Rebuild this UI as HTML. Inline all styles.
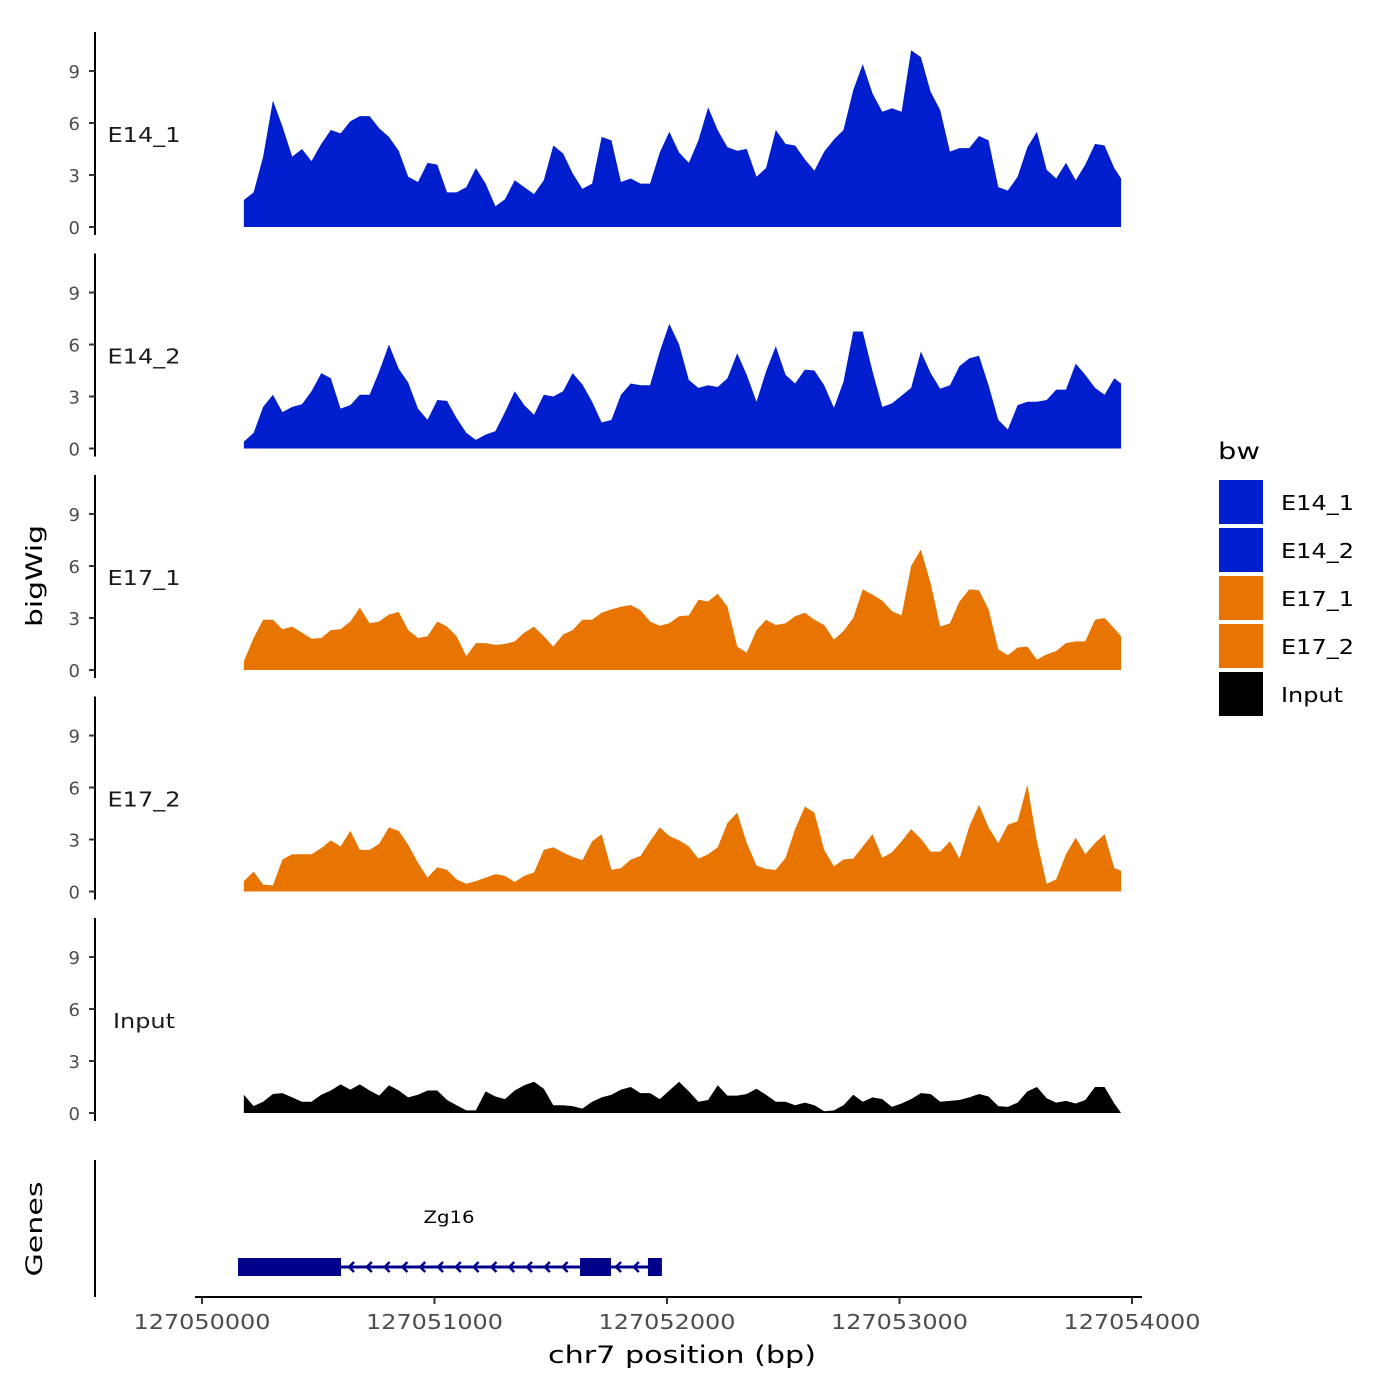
<!DOCTYPE html>
<html>
<head>
<meta charset="utf-8">
<style>
  html,body{margin:0;padding:0;background:#fff;}
  svg{display:block;font-family:"DejaVu Sans","Liberation Sans",sans-serif;}
</style>
</head>
<body>
<svg id="chart" width="1400" height="1400" viewBox="0 0 1400 1400" xmlns="http://www.w3.org/2000/svg">
  <rect x="0" y="0" width="1400" height="1400" fill="#fff"/>
  <g id="panels"></g>
  <g id="genes"></g>
  <g id="xaxis"></g>
  <text x="42" y="576" font-size="22" fill="#000" text-anchor="middle" textLength="102" lengthAdjust="spacingAndGlyphs" transform="rotate(-90 42 576)">bigWig</text>
  <text x="42" y="1229" font-size="22" fill="#000" text-anchor="middle" textLength="95" lengthAdjust="spacingAndGlyphs" transform="rotate(-90 42 1229)">Genes</text>
  <text x="682" y="1363" font-size="24" fill="#000" text-anchor="middle" textLength="268" lengthAdjust="spacingAndGlyphs">chr7 position (bp)</text>
  <g id="legend">
    <text x="1218" y="459" font-size="23" fill="#000" textLength="42" lengthAdjust="spacingAndGlyphs">bw</text>
  </g>
</svg>
<script>
const regionStart = 127050000;
const positionsOffsetBp = [180,222,263,305,346,388,430,471,513,554,596,638,679,721,762,804,846,887,929,970,1012,1054,1095,1137,1178,1220,1262,1303,1345,1386,1428,1470,1511,1553,1594,1636,1678,1719,1761,1802,1844,1886,1927,1969,2010,2052,2094,2135,2177,2218,2260,2302,2343,2385,2426,2468,2510,2551,2593,2634,2676,2718,2759,2801,2842,2884,2926,2967,3009,3050,3092,3134,3175,3217,3258,3300,3342,3383,3425,3466,3508,3550,3591,3633,3674,3716,3758,3799,3841,3882,3924,3953];
const trackNames = ["E14_1","E14_2","E17_1","E17_2","Input"];
const valuesE14_1 = [1.56,2.0,4.06,7.3,5.8,4.06,4.5,3.8,4.8,5.6,5.4,6.1,6.4,6.4,5.7,5.2,4.4,2.9,2.6,3.7,3.6,2.0,2.0,2.3,3.4,2.5,1.2,1.6,2.7,2.3,1.9,2.7,4.7,4.25,3.1,2.2,2.5,5.2,5.0,2.6,2.8,2.5,2.5,4.3,5.5,4.3,3.7,5.0,6.9,5.6,4.6,4.4,4.5,2.9,3.4,5.6,4.8,4.7,3.9,3.25,4.35,5.05,5.6,7.9,9.4,7.7,6.65,6.85,6.65,10.2,9.8,7.8,6.75,4.35,4.55,4.55,5.25,5.0,2.3,2.1,2.9,4.6,5.5,3.3,2.8,3.7,2.7,3.6,4.8,4.7,3.4,2.8];
const valuesE14_2 = [0.4,0.9,2.4,3.1,2.1,2.4,2.55,3.3,4.35,4.05,2.3,2.5,3.1,3.1,4.45,6.0,4.6,3.8,2.3,1.65,2.8,2.75,1.75,0.9,0.5,0.8,1.0,2.1,3.3,2.5,1.95,3.1,3.0,3.3,4.35,3.7,2.7,1.5,1.65,3.1,3.75,3.65,3.65,5.6,7.2,6.0,3.95,3.5,3.65,3.55,4.05,5.5,4.25,2.7,4.45,5.9,4.25,3.75,4.55,4.5,3.65,2.35,3.85,6.75,6.75,4.45,2.4,2.6,3.05,3.5,5.6,4.35,3.45,3.65,4.75,5.2,5.35,3.65,1.65,1.1,2.5,2.7,2.7,2.8,3.4,3.4,4.9,4.25,3.5,3.1,4.05,3.75];
const valuesE17_1 = [0.5,1.85,2.9,2.9,2.35,2.5,2.15,1.8,1.85,2.3,2.35,2.8,3.6,2.7,2.8,3.2,3.35,2.3,1.85,1.95,2.8,2.5,1.95,0.8,1.55,1.55,1.45,1.5,1.65,2.15,2.5,1.95,1.35,2.05,2.3,2.9,2.9,3.3,3.5,3.65,3.75,3.45,2.8,2.55,2.7,3.1,3.15,4.05,3.95,4.4,3.65,1.35,1.0,2.3,2.9,2.6,2.7,3.1,3.3,2.9,2.6,1.75,2.25,3.0,4.65,4.35,4.0,3.4,3.15,6.0,6.95,5.0,2.5,2.7,3.95,4.65,4.6,3.5,1.2,0.85,1.3,1.35,0.6,0.9,1.1,1.55,1.65,1.65,2.9,3.0,2.4,1.95];
const valuesE17_2 = [0.6,1.15,0.4,0.35,1.85,2.15,2.15,2.15,2.5,2.95,2.6,3.5,2.4,2.4,2.75,3.7,3.5,2.7,1.65,0.8,1.4,1.25,0.7,0.45,0.6,0.8,1.0,0.9,0.55,0.9,1.1,2.4,2.55,2.25,2.0,1.8,2.9,3.3,1.25,1.35,1.85,2.05,2.9,3.7,3.2,2.95,2.6,1.9,2.15,2.55,3.95,4.55,2.8,1.5,1.3,1.25,1.95,3.6,4.9,4.55,2.4,1.45,1.85,1.9,2.6,3.3,1.95,2.25,2.9,3.6,3.05,2.3,2.3,2.9,1.9,3.75,5.0,3.7,2.8,3.85,4.05,6.15,2.9,0.45,0.7,2.15,3.1,2.15,2.8,3.3,1.35,1.2];
const valuesInput = [1.05,0.4,0.65,1.1,1.15,0.9,0.65,0.65,1.05,1.3,1.65,1.35,1.65,1.3,1.0,1.6,1.3,0.9,1.05,1.3,1.3,0.75,0.45,0.15,0.15,1.25,0.95,0.8,1.3,1.6,1.8,1.4,0.45,0.45,0.4,0.25,0.65,0.9,1.05,1.35,1.5,1.15,1.15,0.8,1.3,1.8,1.25,0.65,0.75,1.6,1.0,1.0,1.1,1.4,1.05,0.65,0.65,0.45,0.6,0.45,0.1,0.15,0.45,1.05,0.65,0.9,0.8,0.35,0.55,0.8,1.15,1.1,0.65,0.7,0.75,0.9,1.1,0.95,0.4,0.35,0.6,1.25,1.5,0.85,0.6,0.7,0.55,0.75,1.5,1.5,0.55,0.0];
const yTicks = [0,3,6,9];
const yTickLabels = ["0","3","6","9"];
const xTicksBp = [127050000,127051000,127052000,127053000,127054000];
const xTickLabels = ["127050000","127051000","127052000","127053000","127054000"];
const geneName = "Zg16";
const geneStartBp = 127050155;
const geneEndBp = 127051978;
const exonStartsBp = [127050155,127051626,127051918];
const exonEndsBp = [127050598,127051759,127051978];
const legendLabels = ["E14_1","E14_2","E17_1","E17_2","Input"];

const NS = "http://www.w3.org/2000/svg";
const BLUE = "#001ECD", ORANGE = "#E87502", BLACK = "#000000";
const trackColors = [BLUE, BLUE, ORANGE, ORANGE, BLACK];
const seriesList = [valuesE14_1, valuesE14_2, valuesE17_1, valuesE17_2, valuesInput];

function xScale(bp){ return 202 + (bp - regionStart) * 0.2325; }
function panelBase(p){ return 227 + 221.5 * p; }
function yScale(p, v){ return panelBase(p) - v * 17.33; }
function mk(tag, attrs, parent){
  const el = document.createElementNS(NS, tag);
  for (const k in attrs) el.setAttribute(k, attrs[k]);
  parent.appendChild(el);
  return el;
}

const panels = document.getElementById('panels');
for (let p = 0; p < seriesList.length; p++) {
  const g = mk('g', {}, panels);
  
  
  const base = panelBase(p);
  const vals = seriesList[p];
  let d = 'M' + xScale(regionStart + positionsOffsetBp[0]).toFixed(2) + ',' + base;
  for (let i = 0; i < vals.length; i++) {
    d += ' L' + xScale(regionStart + positionsOffsetBp[i]).toFixed(2) + ',' + yScale(p, vals[i]).toFixed(2);
  }
  d += ' L' + xScale(regionStart + positionsOffsetBp[vals.length - 1]).toFixed(2) + ',' + base + ' Z';
  const area = mk('path', {d: d, fill: trackColors[p], 'stroke-linejoin': 'round'}, g);
  
  
  const ax = mk('line', {x1: 95, x2: 95, y1: base - 195, y2: base + 8, stroke: '#000', 'stroke-width': 2}, g);
  
  
  for (let t = 0; t < yTicks.length; t++) {
    const y = yScale(p, yTicks[t]);
    const tk = mk('line', {x1: 89, x2: 95, y1: y, y2: y, stroke: '#333', 'stroke-width': 2}, g);
    
    
    const tl = mk('text', {x: 80, y: y + 7, 'font-size': 18, fill: '#4d4d4d', 'text-anchor': 'end'}, g);
    tl.textContent = yTickLabels[t];
    
    
  }
  const lbl = mk('text', {x: 144, y: base - 85, 'font-size': 20, fill: '#1a1a1a', 'text-anchor': 'middle', textLength: (trackNames[p] === 'Input' ? 62 : 73), lengthAdjust: 'spacingAndGlyphs'}, g);
  lbl.textContent = trackNames[p];
  
  
}

// Gene track
const genes = document.getElementById('genes');
const gax = mk('line', {x1: 95, x2: 95, y1: 1160, y2: 1297, stroke: '#000', 'stroke-width': 2}, genes);


const gy = 1267;
const gl = mk('line', {x1: xScale(geneStartBp), x2: xScale(geneEndBp), y1: gy, y2: gy, stroke: '#00008B', 'stroke-width': 3}, genes);


for (let ax2 = xScale(exonEndsBp[0]) + 8; ax2 < xScale(geneEndBp) - 6; ax2 += 17.8) {
  let inExon = false;
  for (let e = 0; e < exonStartsBp.length; e++) {
    if (ax2 > xScale(exonStartsBp[e]) - 4 && ax2 < xScale(exonEndsBp[e]) + 4) inExon = true;
  }
  if (inExon) continue;
  const ar = mk('polyline', {points: (ax2+5)+','+(gy-5)+' '+ax2+','+gy+' '+(ax2+5)+','+(gy+5), fill: 'none', stroke: '#00008B', 'stroke-width': 2.5}, genes);
  
  
}
for (let e = 0; e < exonStartsBp.length; e++) {
  const x1 = xScale(exonStartsBp[e]), x2 = xScale(exonEndsBp[e]);
  const ex = mk('rect', {x: x1, y: 1258, width: x2 - x1, height: 18, fill: '#00008B'}, genes);
  
  
}
const gn = mk('text', {x: 449, y: 1223, 'font-size': 17, fill: '#000', 'text-anchor': 'middle', textLength: 51, lengthAdjust: 'spacingAndGlyphs'}, genes);
gn.textContent = geneName;



// X axis
const xa = document.getElementById('xaxis');
const xl = mk('line', {x1: 195, x2: 1142, y1: 1297, y2: 1297, stroke: '#000', 'stroke-width': 2}, xa);


for (let t = 0; t < xTicksBp.length; t++) {
  const x = xScale(xTicksBp[t]);
  const tk = mk('line', {x1: x, x2: x, y1: 1297, y2: 1304, stroke: '#333', 'stroke-width': 2}, xa);
  
  
  const tl = mk('text', {x: x, y: 1329, 'font-size': 20, fill: '#4d4d4d', 'text-anchor': 'middle', textLength: 137, lengthAdjust: 'spacingAndGlyphs'}, xa);
  tl.textContent = xTickLabels[t];
  
  
}

// Legend
const lg = document.getElementById('legend');
for (let i = 0; i < legendLabels.length; i++) {
  const y = 480 + i * 48;
  const key = mk('rect', {x: 1219, y: y, width: 44, height: 44, fill: trackColors[i]}, lg);
  
  
  const t = mk('text', {x: 1281, y: y + 30, 'font-size': 20, fill: '#000', textLength: (legendLabels[i] === 'Input' ? 62 : 73), lengthAdjust: 'spacingAndGlyphs'}, lg);
  t.textContent = legendLabels[i];
  
  
}
</script>
</body>
</html>
